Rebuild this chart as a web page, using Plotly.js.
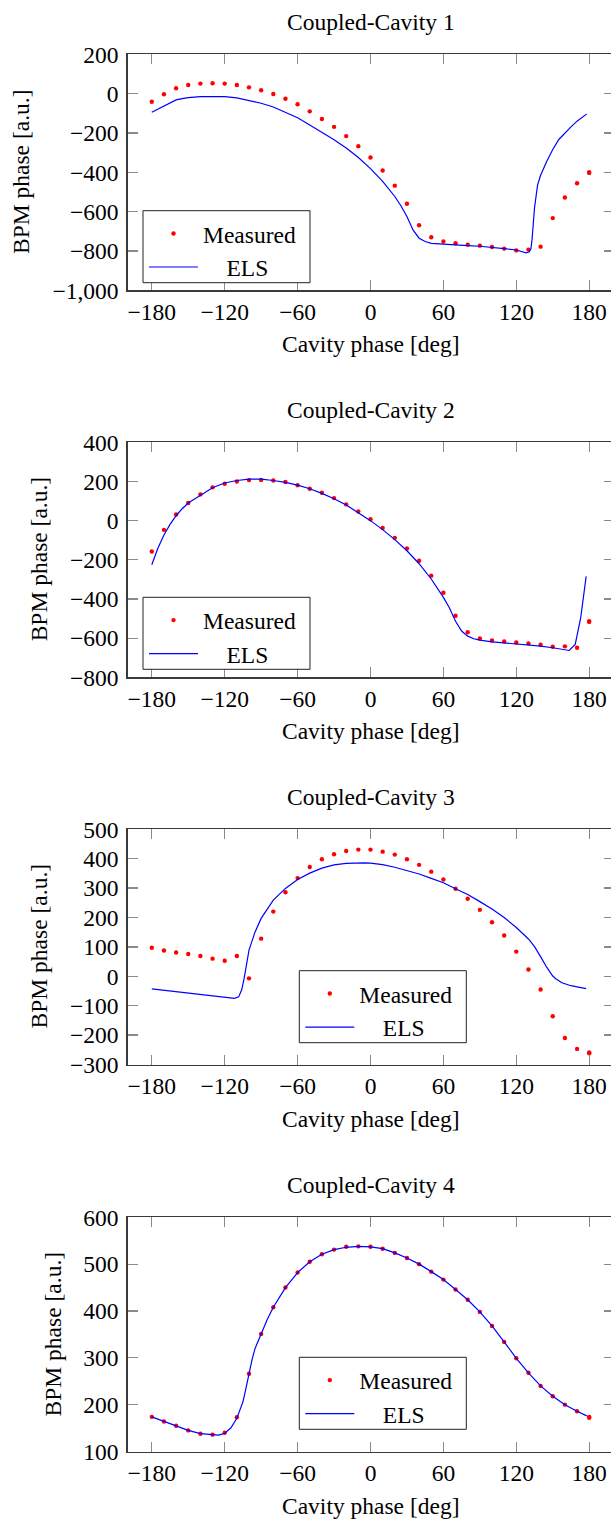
<!DOCTYPE html>
<html><head><meta charset="utf-8">
<script src="https://cdn.plot.ly/plotly-3.0.1.min.js"></script>
<style>html,body{margin:0;padding:0;overflow:hidden;background:#fff}#chart{width:620px;height:1519px}</style>
</head><body><div id="chart"></div>
<script>
// ---------- data ----------
const titles = ["Coupled-Cavity 1", "Coupled-Cavity 2", "Coupled-Cavity 3", "Coupled-Cavity 4"];
const xTickVals = [-180, -120, -60, 0, 60, 120, 180];
const xTickText = ["\u2212180", "\u2212120", "\u221260", "0", "60", "120", "180"];

const measX = [-180,-170,-160,-150,-140,-130,-120,-110,-100,-90,-80,-70,-60,-50,-40,-30,-20,-10,0,10,20,30,40,50,60,70,80,90,100,110,120,130,140,150,160,170,180,180];

const meas1 = [-41,-3,27,44,51,53,51,44,32,17,-2,-26,-54,-90,-129,-169,-216,-267,-325,-391,-468,-560,-669,-730,-752,-761,-768,-773,-780,-788,-797,-793,-778,-633,-528,-456,-403,-399];
const meas2 = [-158,-47,31,90,134,170,188,200,207,208,205,197,181,163,142,115,83,47,7,-37,-88,-142,-205,-281,-368,-486,-570,-602,-612,-617,-622,-627,-634,-644,-642,-649,-517,-513];
const meas3 = [97,88,81,76,69,60,53,69,-7,128,220,286,334,372,398,415,426,431,431,424,414,398,379,356,329,298,264,226,184,139,84,23,-45,-136,-210,-247,-262,-259];
const meas4 = [174,164,155,145,138,136,140,173,266,351,408,450,482,505,521,531,537,538,537,533,524,513,500,484,467,446,424,398,368,334,299,268,240,218,200,186,174,172];

const els1X = [-180,-170,-165,-160,-155,-150,-140,-130,-120,-110,-100,-90,-80,-70,-60,-50,-40,-30,-20,-10,0,10,20,25,30,35,40,45,50,60,70,80,90,100,110,120,128,130.5,132,133,134,135,137.5,140,145,150,155,160,165,170,175,178];
const els1Y = [-95,-63,-46,-32,-25,-20,-15,-14,-15,-22,-34,-49,-68,-94,-123,-160,-197,-235,-277,-325,-381,-446,-523,-570,-625,-693,-735,-752,-761,-766,-769,-773,-776,-781,-788,-795,-810,-805,-790,-740,-650,-580,-465,-415,-345,-284,-233,-199,-169,-140,-114,-103];

const els2X = [-180,-175,-170,-165,-160,-155,-150,-140,-130,-120,-110,-100,-90,-80,-70,-60,-50,-40,-30,-20,-10,0,10,20,30,40,50,60,65,70,75,80,85,90,100,110,120,130,140,150,160,163.5,168.5,173,177.5];
const els2Y = [-225,-141,-73,-19,25,61,90,131,168,192,205,212,212,205,195,181,163,139,112,80,42,0,-46,-97,-154,-220,-298,-392,-446,-514,-564,-590,-603,-610,-619,-624,-629,-634,-641,-649,-658,-663,-632,-497,-285];

const els3X = [-180,-160,-140,-120,-112,-108.5,-106,-104,-102.3,-100,-95,-90,-80,-70,-60,-50,-40,-30,-20,-10,-5,0,10,20,30,40,50,60,70,80,90,100,110,120,130,135,140,145,150,152.5,157.5,165,170,177.5];
const els3Y = [-43,-52,-61,-69,-75,-70,-46,-7,38,89,151,197,259,299,329,351,368,379,384,386,386,385,380,371,360,348,333,318,298,278,254,229,200,166,127,101,67,31,1,-8,-22,-32,-36,-42];

const els4X = [-180,-170,-160,-150,-140,-130,-125,-120,-115,-110,-105,-102.5,-100,-97.5,-95,-92.5,-90,-85,-80,-70,-60,-50,-40,-30,-20,-10,-5,0,10,20,30,40,50,60,70,80,90,100,110,120,130,140,150,160,170,178];
const els4Y = [174,164,155,145,138,136,135,139,150,171,206,235,266,296,320,337,351,382,408,450,482,505,521,531,536,538,538,537,533,524,513,500,484,467,446,424,398,368,334,299,268,240,218,200,186,176];

const yTickVals = [
  [-1000,-800,-600,-400,-200,0,200],
  [-800,-600,-400,-200,0,200,400],
  [-300,-200,-100,0,100,200,300,400,500],
  [100,200,300,400,500,600]
];
const yTickText = [
  ["\u22121,000","\u2212800","\u2212600","\u2212400","\u2212200","0","200"],
  ["\u2212800","\u2212600","\u2212400","\u2212200","0","200","400"],
  ["\u2212300","\u2212200","\u2212100","0","100","200","300","400","500"],
  ["100","200","300","400","500","600"]
];
const yRanges = [[-1000,200],[-800,400],[-300,500],[100,600]];
const measAll = [meas1, meas2, meas3, meas4];
const elsXAll = [els1X, els2X, els3X, els4X];
const elsYAll = [els1Y, els2Y, els3Y, els4Y];

// ---------- layout geometry (pixels) ----------
const W = 620, H = 1519;
const boxL = 127.5, boxR = 613.5;
const boxTop = [54.3, 442.3, 829.3, 1217.3];
const boxBot = [290.3, 677.3, 1064.5, 1451.5];
const yTitleX = [21.7, 38.5, 38.5, 53];
const legPos = [[143, 210.7], [143, 597.3], [299.3, 970.7], [299.3, 1357.3]];
const legW = 167, legH = 72;
const FONT = '"Liberation Serif", "Times New Roman", serif';
const FS = 23.5;

const px = p => p / W;
const py = p => 1 - p / H;

const data = [];
const layout = {
  width: W, height: H,
  margin: {l: 0, r: 0, t: 0, b: 0},
  paper_bgcolor: "#fff", plot_bgcolor: "#fff",
  font: {family: FONT, size: FS, color: "#000"},
  annotations: [], shapes: [],
  showlegend: true
};

for (let i = 0; i < 4; i++) {
  const n = i + 1;
  const xa = "x" + (n === 1 ? "" : n), ya = "y" + (n === 1 ? "" : n);
  const legName = "legend" + (n === 1 ? "" : n);
  data.push({
    type: "scatter", mode: "markers", name: "Measured",
    x: measX, y: measAll[i], xaxis: xa, yaxis: ya, legend: legName,
    marker: {color: "#ff0000", size: 4.4}
  });
  data.push({
    type: "scatter", mode: "lines", name: "\u00a0\u00a0\u00a0\u00a0ELS",
    x: elsXAll[i], y: elsYAll[i], xaxis: xa, yaxis: ya, legend: legName,
    line: {color: "#0000ff", width: 1.2}
  });
  const axCommon = {
    showline: true, linecolor: "#3a3a3a", linewidth: 1.2, mirror: "ticks",
    ticks: "inside", ticklen: 10, tickwidth: 1.2, tickcolor: "#8a8a8a",
    showgrid: false, zeroline: false, fixedrange: true,
    tickfont: {family: FONT, size: FS, color: "#000"}
  };
  layout["xaxis" + (n === 1 ? "" : n)] = Object.assign({}, axCommon, {
    domain: [px(boxL), px(boxR)], range: [-200, 200], anchor: ya,
    tickmode: "array", tickvals: xTickVals, ticktext: xTickText, ticklabelstandoff: 0
  });
  layout["yaxis" + (n === 1 ? "" : n)] = Object.assign({}, axCommon, {
    domain: [py(boxBot[i]), py(boxTop[i])], range: yRanges[i], anchor: xa,
    tickmode: "array", tickvals: yTickVals[i], ticktext: yTickText[i], ticklabelstandoff: 3
  });
  // legend frame (white box with dark border), drawn above traces, below legend items
  layout.shapes.push({
    type: "rect", xref: "paper", yref: "paper", layer: "above",
    x0: px(legPos[i][0]), x1: px(legPos[i][0] + legW),
    y0: py(legPos[i][1] + legH), y1: py(legPos[i][1]),
    fillcolor: "#fff", line: {color: "#222", width: 1}
  });
  layout[legName] = {
    x: px(legPos[i][0] + 1), y: py(legPos[i][1] + 1), xanchor: "left", yanchor: "top",
    xref: "paper", yref: "paper",
    bgcolor: "rgba(0,0,0,0)", borderwidth: 0,
    font: {family: FONT, size: FS, color: "#000"},
    itemwidth: 49, tracegroupgap: 0, traceorder: "normal"
  };
  layout.annotations.push({
    text: titles[i], xref: "paper", yref: "paper", showarrow: false,
    x: px((boxL + boxR) / 2), y: py(boxTop[i] - 32), xanchor: "center", yanchor: "middle",
    font: {family: FONT, size: FS, color: "#000"}
  });
  layout.annotations.push({
    text: "Cavity phase [deg]", xref: "paper", yref: "paper", showarrow: false,
    x: px((boxL + boxR) / 2), y: py(boxBot[i] + 54), xanchor: "center", yanchor: "middle",
    font: {family: FONT, size: FS, color: "#000"}
  });
  layout.annotations.push({
    text: "BPM phase [a.u.]", xref: "paper", yref: "paper", showarrow: false, textangle: -90,
    x: px(yTitleX[i]), y: py((boxTop[i] + boxBot[i]) / 2), xanchor: "center", yanchor: "middle",
    font: {family: FONT, size: FS, color: "#000"}
  });
}

Plotly.newPlot("chart", data, layout, {displayModeBar: false, staticPlot: true});
</script>
</body></html>
